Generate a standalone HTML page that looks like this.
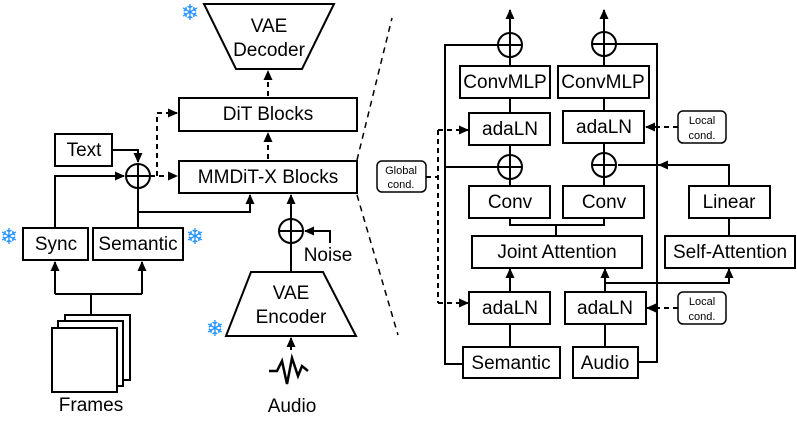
<!DOCTYPE html>
<html><head><style>body{margin:0;background:#fff}svg{display:block}text{font-family:"Liberation Sans",sans-serif;fill:#000}</style></head><body>
<svg width="797" height="433" viewBox="0 0 797 433" xmlns="http://www.w3.org/2000/svg">
<defs><marker id="a" markerWidth="10" markerHeight="10" refX="9" refY="5" orient="auto" markerUnits="userSpaceOnUse"><path d="M0,0.5 L10,5 L0,9.5z" fill="#000"/></marker></defs>
<g fill="none" stroke="#000" stroke-width="2">
<polygon points="204,4 334,4 302,69 236,69"/>
<rect x="179" y="98" width="178" height="33"/>
<rect x="179" y="161" width="178" height="32"/>
<rect x="55" y="134" width="57" height="32"/>
<rect x="23" y="228" width="65" height="32"/>
<rect x="93" y="228" width="90" height="32"/>
<circle cx="138" cy="176" r="12"/><path d="M126,176H150M138,164V188"/>
<path d="M112,150H138V162" marker-end="url(#a)"/>
<path d="M55,228V176H124" marker-end="url(#a)"/>
<path d="M138,228V188"/>
<path d="M138,212H250V195" marker-end="url(#a)"/>
<path d="M150,176H177" stroke-dasharray="5,4" marker-end="url(#a)"/>
<path d="M157,176V113H177" stroke-dasharray="5,4" marker-end="url(#a)"/>
<path d="M268,159V133" stroke-dasharray="5,4" marker-end="url(#a)"/>
<path d="M268,96V71" stroke-dasharray="5,4" marker-end="url(#a)"/>
<rect x="65" y="315" width="65" height="65" fill="#fff"/>
<rect x="58" y="321" width="65" height="65" fill="#fff"/>
<rect x="52" y="328" width="65" height="64" fill="#fff"/>
<path d="M91,315V294M55,294H142"/>
<path d="M55,294V262" marker-end="url(#a)"/><path d="M142,294V262" marker-end="url(#a)"/>
<polygon points="251,272 323,272 356,336 226,336"/>
<circle cx="291" cy="231" r="12"/><path d="M279,231H303M291,219V243"/>
<path d="M291,272V243"/>
<path d="M291,219V195" marker-end="url(#a)"/>
<path d="M330,243V231H305" marker-end="url(#a)"/>
<path d="M291,350V338" marker-end="url(#a)"/>
<path d="M269,371H277L282,361L287,384L292,358L298,376L302,366L308,371" stroke-width="2.5"/>
<path d="M357,160L392,18M357,195L398,335" stroke-dasharray="6,5" stroke-width="1.5"/>
<path d="M498,45H445V364H463"/>
<path d="M616,44H657V362H638"/>
<path d="M445,167H498"/>
<circle cx="510" cy="45" r="12"/><path d="M498,45H522M510,33V57"/>
<circle cx="604" cy="44" r="12"/><path d="M592,44H616M604,32V56"/>
<path d="M510,33V10" marker-end="url(#a)"/><path d="M604,32V10" marker-end="url(#a)"/>
<rect x="460" y="66" width="90" height="32"/><rect x="558" y="66" width="91" height="32"/>
<rect x="469" y="113" width="81" height="32"/><rect x="563" y="111" width="81" height="32"/>
<circle cx="510" cy="167" r="12"/><path d="M498,167H522M510,155V179"/>
<circle cx="604" cy="165" r="12"/><path d="M592,165H616M604,153V177"/>
<path d="M510,57V66M604,56V66M510,98V113M604,98V111M510,145V155M604,143V153M510,179V186M604,177V186"/>
<rect x="469" y="186" width="81" height="32"/><rect x="563" y="186" width="81" height="32"/>
<rect x="472" y="236" width="170" height="32"/>
<path d="M510,218V225H604V218M556,225V236"/>
<rect x="463" y="347" width="97" height="31"/><rect x="573" y="347" width="65" height="31"/>
<rect x="469" y="292" width="81" height="32"/><rect x="565" y="292" width="81" height="32"/>
<path d="M510,347V324M605,347V324"/>
<path d="M510,292V269" marker-end="url(#a)"/><path d="M605,292V269" marker-end="url(#a)"/>
<path d="M605,283H729V269" marker-end="url(#a)"/>
<rect x="665" y="236" width="130" height="32"/><rect x="689" y="186" width="81" height="32"/>
<path d="M729,236V218M729,186V165H618"/>
<path d="M700,165H659" marker-end="url(#a)"/>
<rect x="678" y="111" width="48" height="32" rx="5" stroke-width="1.5"/>
<rect x="678" y="292" width="48" height="32" rx="5" stroke-width="1.5"/>
<rect x="377" y="161" width="49" height="31" rx="5" stroke-width="1.5"/>
<path d="M678,127H646" stroke-dasharray="5,4" marker-end="url(#a)"/>
<path d="M678,308H647" stroke-dasharray="5,4" marker-end="url(#a)"/>
<path d="M426,177H438M438,130V303" stroke-dasharray="5,4"/>
<path d="M438,130H468" stroke-dasharray="5,4" marker-end="url(#a)"/>
<path d="M438,303H468" stroke-dasharray="5,4" marker-end="url(#a)"/>
</g>
<g font-size="19" text-anchor="middle">
<text x="269" y="32">VAE</text><text x="269" y="56">Decoder</text>
<text x="268" y="120">DiT Blocks</text><text x="268" y="183">MMDiT-X Blocks</text>
<text x="84" y="156">Text</text><text x="56" y="250">Sync</text><text x="138" y="250">Semantic</text>
<text x="91" y="411">Frames</text>
<text x="291" y="299">VAE</text><text x="291" y="323">Encoder</text>
<text x="328" y="261">Noise</text><text x="292" y="412">Audio</text>
<text x="505" y="88">ConvMLP</text><text x="603" y="88">ConvMLP</text>
<text x="510" y="135">adaLN</text><text x="604" y="133">adaLN</text>
<text x="510" y="208">Conv</text><text x="604" y="208">Conv</text>
<text x="557" y="258">Joint Attention</text><text x="729" y="208">Linear</text>
<text x="730" y="258">Self-Attention</text>
<text x="510" y="314">adaLN</text><text x="605" y="314">adaLN</text>
<text x="511" y="369">Semantic</text><text x="605" y="369">Audio</text>
</g>
<g font-size="11" text-anchor="middle">
<text x="702" y="124">Local</text><text x="702" y="139">cond.</text>
<text x="702" y="305">Local</text><text x="702" y="320">cond.</text>
<text x="401" y="174">Global</text><text x="401" y="188">cond.</text>
</g>
<g font-size="22" text-anchor="middle">
<text x="190" y="20" style="fill:#1e90ff">❄</text><text x="9" y="244" style="fill:#1e90ff">❄</text>
<text x="195" y="244" style="fill:#1e90ff">❄</text><text x="215" y="336" style="fill:#1e90ff">❄</text>
</g>
</svg>
</body></html>
